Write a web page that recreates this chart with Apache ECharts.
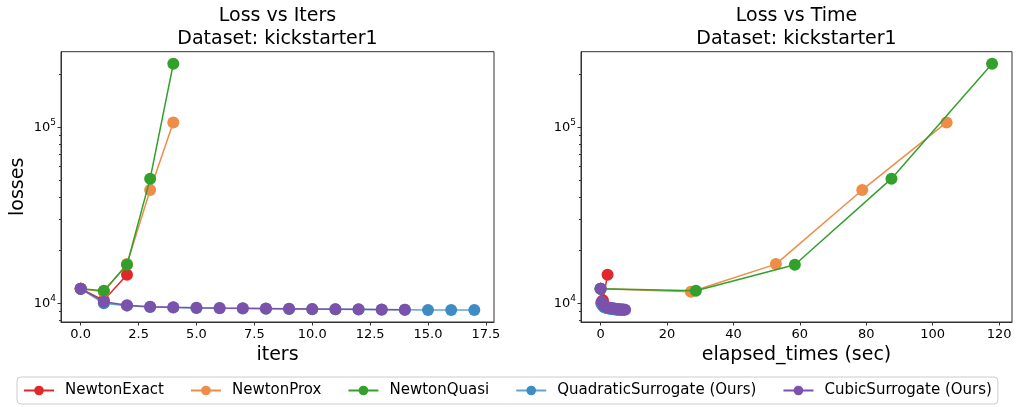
<!DOCTYPE html>
<html>
<head>
<meta charset="utf-8">
<script src="https://cdn.jsdelivr.net/npm/echarts@6/dist/echarts.min.js"></script>
<style>
html,body{margin:0;padding:0;background:#fff;}
#chart{width:1017px;height:407px;}
</style>
</head>
<body>
<div id="chart"></div>
<script>
// ---- data ----
const seriesNames = ['NewtonExact', 'NewtonProx', 'NewtonQuasi', 'QuadraticSurrogate (Ours)', 'CubicSurrogate (Ours)'];

const exactIters = [0, 1, 2];
const exactTimes = [0, 0.7, 2.1];
const exactLosses = [12100, 10400, 14540];

const proxIters = [0, 1, 2, 3, 4];
const proxTimes = [0, 27.2, 52.8, 78.8, 104.2];
const proxLosses = [12100, 11640, 16700, 44050, 106600];

const quasiIters = [0, 1, 2, 3, 4];
const quasiTimes = [0, 28.7, 58.5, 87.6, 117.9];
const quasiLosses = [12100, 11790, 16560, 51060, 229600];

const quadIters = [0, 1, 2, 3, 4, 5, 6, 7, 8, 9, 10, 11, 12, 13, 14, 15, 16, 17];
const quadTimes = [0, 0.2, 0.6, 1.0, 1.4, 1.8, 2.2, 2.6, 3.0, 3.4, 3.8, 4.2, 4.6, 5.0, 5.4, 5.8, 6.2, 6.6];
const quadLosses = [12100, 10000, 9700, 9540, 9460, 9410, 9370, 9340, 9310, 9280, 9260, 9240, 9220, 9200, 9180, 9170, 9165, 9160];

const cubicIters = [0, 1, 2, 3, 4, 5, 6, 7, 8, 9, 10, 11, 12, 13, 14];
const cubicTimes = [0, 0.3, 0.9, 1.5, 2.1, 2.6, 3.1, 3.6, 4.1, 4.6, 5.1, 5.7, 6.3, 6.9, 7.4];
const cubicLosses = [12100, 10210, 9740, 9570, 9490, 9440, 9400, 9370, 9330, 9300, 9280, 9260, 9240, 9220, 9200];

const iterTicks = [0, 2.5, 5, 7.5, 10, 12.5, 15, 17.5];
const timeTicks = [0, 20, 40, 60, 80, 100, 120];
const yMajorTicks = [10000, 100000];
const yMinorTicks = [8000, 9000, 20000, 30000, 40000, 50000, 60000, 70000, 80000, 90000, 200000];

// ---- styling ----
const colors = ['#e0282a', '#ee8c48', '#33a02c', '#3d8dc4', '#7b52ab'];
const FONT = 'DejaVu Sans';
const yMin = 7830, yMax = 268800;

const iterSets = [
  [exactIters, exactLosses], [proxIters, proxLosses], [quasiIters, quasiLosses],
  [quadIters, quadLosses], [cubicIters, cubicLosses]
];
const timeSets = [
  [exactTimes, exactLosses], [proxTimes, proxLosses], [quasiTimes, quasiLosses],
  [quadTimes, quadLosses], [cubicTimes, cubicLosses]
];

function zip(xs, ys) { return xs.map((x, i) => [x, ys[i]]); }

function makeSeries(sets, xIdx, yIdx) {
  return sets.map((s, i) => ({
    name: seriesNames[i],
    type: 'line',
    xAxisIndex: xIdx,
    yAxisIndex: yIdx,
    data: zip(s[0], s[1]),
    symbol: 'circle',
    symbolSize: 12,
    showAllSymbol: true,
    lineStyle: { width: 1.5, color: colors[i], opacity: i === 3 ? 0.8 : 1 },
    itemStyle: { color: colors[i] },
    emphasis: { disabled: true },
    z: 2 + i
  }));
}

const axisColor = '#333';

function xAxisDef(gridIndex, min, max, ticks, fmt, name) {
  return {
    type: 'value', gridIndex, min, max,
    name, nameLocation: 'middle', nameGap: 20,
    nameTextStyle: { fontSize: 19, fontFamily: FONT, color: '#000' },
    axisLine: { show: true, onZero: false, lineStyle: { color: axisColor, width: 1 } },
    axisTick: { show: true, length: 3.5, customValues: ticks, lineStyle: { color: axisColor } },
    axisLabel: { customValues: ticks, formatter: fmt, fontSize: 13, fontFamily: FONT, color: '#000', margin: 6 },
    splitLine: { show: false }
  };
}

function yMajor(gridIndex, name) {
  return {
    type: 'log', gridIndex, min: yMin, max: yMax, logBase: 10, position: 'left',
    name: name || '', nameLocation: 'middle', nameGap: 33,
    nameTextStyle: { fontSize: 19, fontFamily: FONT, color: '#000' },
    axisLine: { show: true, onZero: false, lineStyle: { color: axisColor, width: 1 } },
    axisTick: { show: true, length: 3.5, customValues: yMajorTicks, lineStyle: { color: axisColor } },
    axisLabel: {
      customValues: yMajorTicks,
      margin: 5,
      formatter: v => '{b|10}{s|' + Math.round(Math.log10(v)) + '}',
      rich: {
        b: { fontSize: 13, fontFamily: FONT, color: '#000' },
        s: { fontSize: 9, fontFamily: FONT, color: '#000', padding: [0, 0, 9, 0] }
      }
    },
    splitLine: { show: false }
  };
}

function yMinor(gridIndex) {
  return {
    type: 'log', gridIndex, min: yMin, max: yMax, logBase: 10, position: 'left', offset: 0,
    axisLine: { show: false, onZero: false },
    axisTick: { show: true, length: 2, customValues: yMinorTicks, lineStyle: { color: axisColor } },
    axisLabel: { show: false },
    splitLine: { show: false }
  };
}

const option = {
  animation: false,
  backgroundColor: '#fff',
  textStyle: { fontFamily: FONT },
  title: [
    {
      text: 'Loss vs Iters\nDataset: kickstarter1',
      left: 277.5, top: 5, padding: 0, textAlign: 'center',
      textStyle: { fontSize: 19, fontWeight: 'normal', fontFamily: FONT, color: '#000', lineHeight: 23 }
    },
    {
      text: 'Loss vs Time\nDataset: kickstarter1',
      left: 796.5, top: 5, padding: 0, textAlign: 'center',
      textStyle: { fontSize: 19, fontWeight: 'normal', fontFamily: FONT, color: '#000', lineHeight: 23 }
    }
  ],
  legend: {
    data: seriesNames,
    left: 17, top: 377,
    orient: 'horizontal',
    padding: [6, 6],
    itemGap: 26,
    itemWidth: 30,
    itemHeight: 12,
    borderColor: '#ccc', borderWidth: 1, borderRadius: 4,
    textStyle: { fontSize: 15, fontFamily: FONT, color: '#000', padding: [0, 0, 0, 6] }
  },
  grid: [
    { left: 61, top: 51.7, width: 433, height: 270.3, show: true, borderColor: axisColor, borderWidth: 1, backgroundColor: 'transparent' },
    { left: 581, top: 51.7, width: 431, height: 270.3, show: true, borderColor: axisColor, borderWidth: 1, backgroundColor: 'transparent' }
  ],
  xAxis: [
    xAxisDef(0, -0.85, 17.85, iterTicks, v => v.toFixed(1), 'iters'),
    xAxisDef(1, -5.9, 123.9, timeTicks, v => String(v), 'elapsed_times (sec)')
  ],
  yAxis: [
    yMajor(0, 'losses'),
    yMajor(1, ''),
    yMinor(0),
    yMinor(1)
  ],
  series: [].concat(makeSeries(iterSets, 0, 0), makeSeries(timeSets, 1, 1))
};

const chart = echarts.init(document.getElementById('chart'), null, { renderer: 'canvas' });
chart.setOption(option);
</script>
</body>
</html>
